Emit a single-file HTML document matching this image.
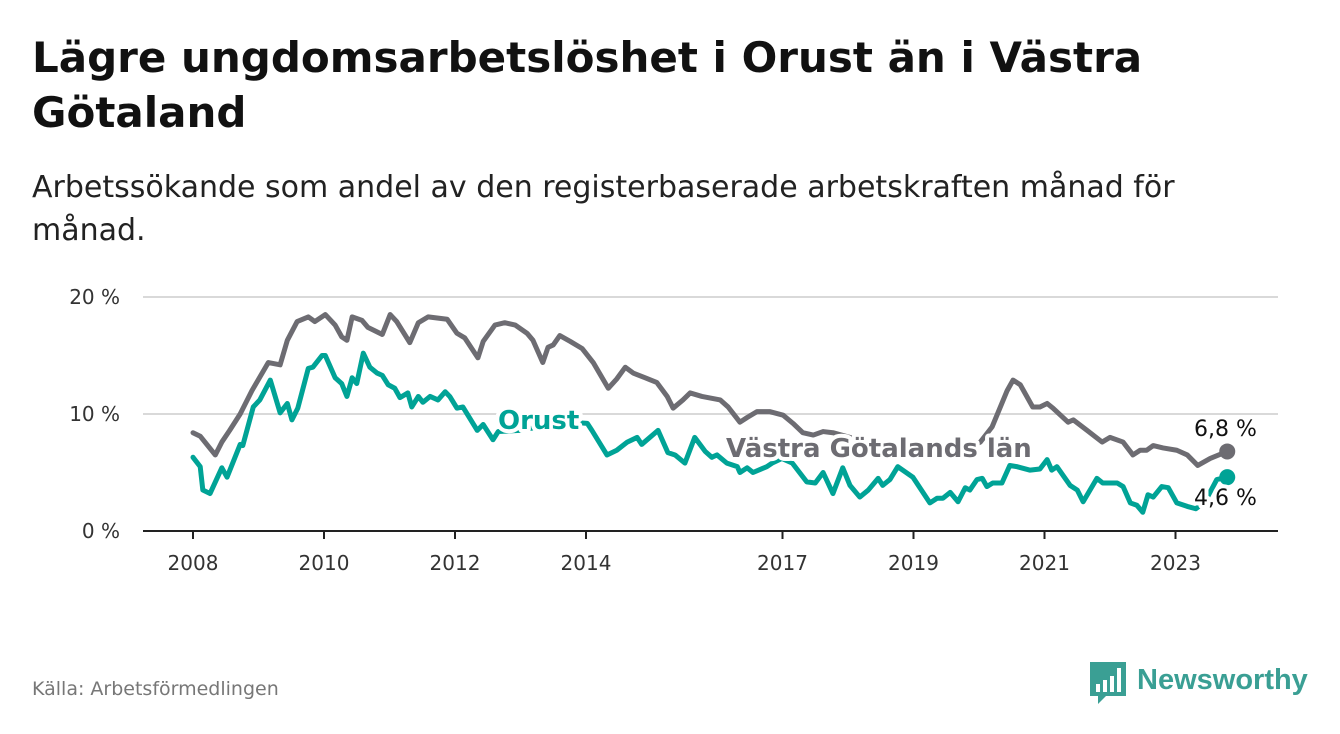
<!DOCTYPE html>
<html><head><meta charset="utf-8"><style>
body{margin:0;background:#fff;width:1340px;height:734px;overflow:hidden;font-family:"DejaVu Sans","Liberation Sans",sans-serif;color:#111}
h1{position:absolute;left:32px;top:30px;margin:0;font-size:42px;line-height:55px;font-weight:bold;width:1280px;color:#111}
.sub{position:absolute;left:32px;top:166px;margin:0;font-size:30px;line-height:43px;width:1290px;color:#222}
.src{position:absolute;left:32px;top:678px;font-size:19px;color:#777}
svg{position:absolute;left:0;top:0}
</style></head><body>
<h1>Lägre ungdomsarbetslöshet i Orust än i Västra<br>Götaland</h1>
<p class="sub">Arbetssökande som andel av den registerbaserade arbetskraften månad för<br>månad.</p>
<div class="src">Källa: Arbetsförmedlingen</div>
<svg id="chart" width="1340" height="734"></svg>
<script>
const yTicks=[0,10,20];
const yTickLabels=["0 %","10 %","20 %"];
const xTicks=[2008,2010,2012,2014,2017,2019,2021,2023];
const vgDates=[2008.0,2008.11,2008.34,2008.44,2008.56,2008.72,2008.90,2009.15,2009.33,2009.44,2009.59,2009.76,2009.86,2010.02,2010.17,2010.27,2010.35,2010.43,2010.58,2010.67,2010.89,2011.01,2011.11,2011.31,2011.44,2011.59,2011.88,2012.03,2012.15,2012.35,2012.43,2012.61,2012.76,2012.92,2013.10,2013.19,2013.34,2013.42,2013.50,2013.60,2013.76,2013.94,2014.11,2014.34,2014.47,2014.60,2014.72,2014.90,2015.08,2015.24,2015.33,2015.48,2015.59,2015.77,2016.05,2016.17,2016.35,2016.46,2016.61,2016.81,2017.01,2017.16,2017.31,2017.47,2017.62,2017.77,2018.03,2018.34,2018.79,2019.25,2019.71,2020.02,2020.20,2020.43,2020.52,2020.63,2020.82,2020.93,2021.04,2021.13,2021.36,2021.44,2021.65,2021.88,2022.00,2022.20,2022.35,2022.46,2022.56,2022.66,2022.81,2023.02,2023.18,2023.34,2023.53,2023.79];
const vgValues=[8.4,8.1,6.5,7.6,8.6,10.0,12.0,14.4,14.2,16.3,17.9,18.3,17.9,18.5,17.6,16.6,16.3,18.3,18.0,17.4,16.8,18.5,17.9,16.1,17.8,18.3,18.1,16.9,16.5,14.8,16.2,17.6,17.8,17.6,16.9,16.3,14.4,15.7,15.9,16.7,16.2,15.6,14.4,12.2,13.0,14.0,13.5,13.1,12.7,11.5,10.5,11.2,11.8,11.5,11.2,10.6,9.3,9.7,10.2,10.2,9.9,9.2,8.4,8.2,8.5,8.4,8.0,7.6,7.2,7.0,6.8,7.6,8.9,12.0,12.9,12.5,10.6,10.6,10.9,10.5,9.3,9.5,8.6,7.6,8.0,7.6,6.5,6.9,6.9,7.3,7.1,6.9,6.5,5.6,6.2,6.8];
const orDates=[2008.0,2008.11,2008.15,2008.26,2008.44,2008.52,2008.72,2008.76,2008.92,2009.02,2009.18,2009.33,2009.44,2009.51,2009.60,2009.76,2009.83,2009.97,2010.02,2010.17,2010.27,2010.35,2010.43,2010.50,2010.60,2010.70,2010.81,2010.89,2010.98,2011.08,2011.16,2011.28,2011.34,2011.44,2011.51,2011.62,2011.74,2011.85,2011.92,2012.03,2012.12,2012.34,2012.43,2012.58,2012.66,2012.99,2013.37,2013.76,2014.02,2014.09,2014.32,2014.47,2014.63,2014.78,2014.85,2015.10,2015.25,2015.36,2015.51,2015.66,2015.82,2015.92,2016.00,2016.15,2016.31,2016.35,2016.46,2016.55,2016.76,2016.84,2016.99,2017.15,2017.37,2017.50,2017.62,2017.77,2017.92,2018.03,2018.18,2018.31,2018.46,2018.53,2018.64,2018.76,2018.99,2019.25,2019.36,2019.45,2019.56,2019.68,2019.79,2019.86,2019.97,2020.05,2020.12,2020.21,2020.35,2020.47,2020.58,2020.78,2020.93,2021.04,2021.11,2021.19,2021.39,2021.50,2021.59,2021.80,2021.89,2022.11,2022.20,2022.31,2022.41,2022.50,2022.58,2022.66,2022.79,2022.89,2023.02,2023.18,2023.31,2023.45,2023.63,2023.79];
const orValues=[6.3,5.5,3.5,3.2,5.4,4.6,7.4,7.3,10.6,11.2,12.9,10.1,10.9,9.5,10.5,13.9,14.0,15.0,15.0,13.1,12.6,11.5,13.1,12.6,15.2,14.0,13.5,13.3,12.5,12.2,11.4,11.8,10.6,11.5,11.0,11.5,11.2,11.9,11.5,10.5,10.6,8.6,9.1,7.8,8.5,8.6,9.0,9.3,9.2,8.6,6.5,6.9,7.6,8.0,7.4,8.6,6.7,6.5,5.8,8.0,6.8,6.3,6.5,5.8,5.5,5.0,5.4,5.0,5.5,5.8,6.2,5.8,4.2,4.1,5.0,3.2,5.4,3.9,2.9,3.5,4.5,3.9,4.4,5.5,4.6,2.4,2.8,2.8,3.3,2.5,3.7,3.5,4.4,4.5,3.8,4.1,4.1,5.6,5.5,5.2,5.3,6.1,5.2,5.5,3.9,3.5,2.5,4.5,4.1,4.1,3.8,2.4,2.2,1.6,3.1,2.9,3.8,3.7,2.4,2.1,1.9,2.5,4.4,4.6];
const NS="http://www.w3.org/2000/svg";
const svg=document.getElementById('chart');
const x=t=>193+(t-2008)*65.5;
const y=v=>531-v*11.7;
function mk(tag,attrs,parent){const e=document.createElementNS(NS,tag);for(const k in attrs)e.setAttribute(k,attrs[k]);(parent||svg).appendChild(e);return e;}
yTicks.forEach((v,i)=>{
  if(v>0){const g=mk('line',{x1:143,x2:1278,y1:y(v),y2:y(v),stroke:'#d9d9d9','stroke-width':2});
  
  }
  const t=mk('text',{x:120,y:y(v)+7,'text-anchor':'end','font-size':20,fill:'#333'});
  t.textContent=yTickLabels[i];
  
  
});
const ax=mk('line',{x1:143,x2:1278,y1:531,y2:531,stroke:'#222','stroke-width':2});


xTicks.forEach(yr=>{
  const tk=mk('line',{x1:x(yr),x2:x(yr),y1:531,y2:539,stroke:'#222','stroke-width':2});
  
  
  const t=mk('text',{x:x(yr),y:570,'text-anchor':'middle','font-size':20,fill:'#333'});
  t.textContent=yr;
  
  
});
function line(d,v,col,name){
  const p=mk('polyline',{points:d.map((t,i)=>x(t)+','+y(v[i])).join(' '),fill:'none',stroke:col,'stroke-width':5,'stroke-linejoin':'round','stroke-linecap':'round'});
  
  
  const n=d.length-1;
  const c=mk('circle',{cx:x(d[n]),cy:y(v[n]),r:8,fill:col});
  
  
}
line(vgDates,vgValues,'#6d6c72','vastra-gotaland-line');
line(orDates,orValues,'#00a396','orust-line');
function label(txt,xx,yy,col,sz,bold,name){
  const t=mk('text',{x:xx,y:yy,fill:col,'font-size':sz,'font-weight':bold?'bold':'normal',stroke:'#fff','stroke-width':8,'paint-order':'stroke','stroke-linejoin':'round'});
  t.textContent=txt;
  
  
}
label('Orust',498,429,'#00a396',26,true,'orust-label');
label('Västra Götalands län',726,457,'#6d6c72',26,true,'vastra-gotaland-label');
label('6,8 %',1194,436,'#111',22,false,'vastra-gotaland-last-value');
label('4,6 %',1194,505,'#111',22,false,'orust-last-value');
const lg=mk('g',{});


mk('path',{d:'M1090 662 h36 v34 h-20 l-8 8 v-8 h-8 z',fill:'#3a9f94'},lg);
[[1096,684,4,8],[1103,680,4,12],[1110,676,4,16],[1117,668,4,24]].forEach(r=>mk('rect',{x:r[0],y:r[1],width:r[2],height:r[3],fill:'#fff'},lg));
const lt=mk('text',{x:1137,y:689,'font-size':29,fill:'#3a9f94','font-weight':'bold','font-family':'Liberation Sans, sans-serif'},lg);
lt.textContent='Newsworthy';
</script>
</body></html>
